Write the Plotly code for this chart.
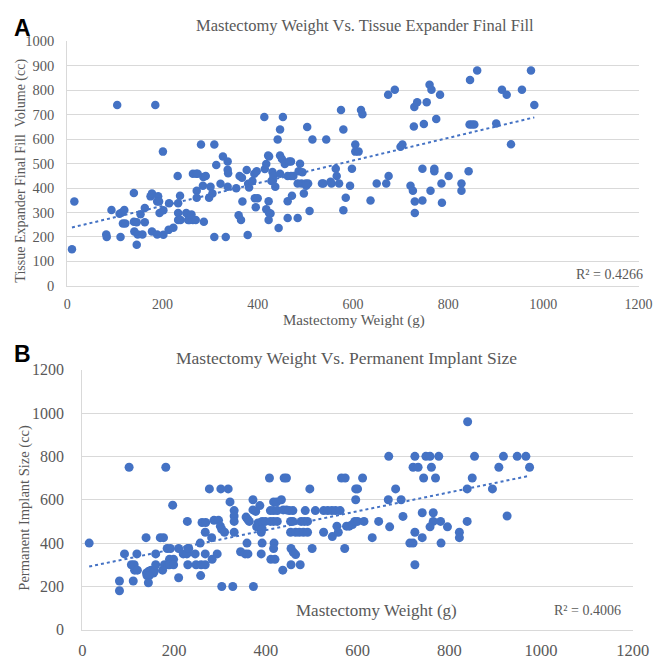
import numpy as np
import plotly.graph_objects as go

# ---------------- Data ----------------
# Panel A: Mastectomy weight (g) vs tissue expander final fill volume (cc)
weight_a = [10, 15, 105, 185, 93, 82, 83, 112, 110, 115, 120, 117, 122, 140, 140, 146, 163, 141, 148, 158,
            146, 154, 163, 175, 178, 178, 189, 191, 189, 193, 194, 202, 201, 202, 214, 213, 223, 232, 233, 237,
            233, 233, 238, 250, 254, 257, 264, 270, 261, 264, 271, 274, 272, 272, 281, 285, 287, 286, 291, 298,
            301, 305, 309, 309, 313, 322, 327, 333, 337, 337, 338, 337, 355, 360, 365, 362, 367, 368, 377, 379,
            380, 382, 389, 393, 394, 400, 396, 398, 414, 415, 418, 418, 422, 424, 423, 424, 427, 423, 429, 432,
            431, 433, 437, 442, 444, 447, 447, 447, 451, 453, 457, 463, 463, 463, 470, 475, 466, 470, 472, 484,
            484, 492, 501, 506, 486, 494, 489, 497, 504, 502, 509, 515, 535, 538, 544, 553, 555, 564, 566, 571,
            575, 580, 580, 585, 594, 598, 605, 605, 612, 617, 620,
            637, 650, 670, 675, 674, 688, 700, 704, 721, 726, 728, 729, 735, 730, 730, 746, 746, 749, 755, 761,
            765, 763, 771, 771, 775, 783, 786, 787, 801, 828, 828, 843, 846, 845, 850, 855, 861, 901, 913, 923,
            932, 955, 974, 981]
fill_a = [150, 345, 740, 740, 310, 210, 200, 200, 295, 300, 310, 255, 255, 380, 262, 260, 260, 222, 210, 210,
          168, 293, 318, 366, 378, 222, 210, 366, 345, 345, 298, 309, 549, 209, 338, 229, 238, 449, 338, 369,
          298, 269, 269, 298, 269, 269, 269, 269, 292, 459, 459, 459, 389, 360, 578, 409, 262, 445, 449, 360,
          405, 378, 578, 200, 494, 418, 529, 200, 509, 475, 461, 405, 399, 289, 269, 449, 442, 345, 474, 208,
          418, 402, 429, 459, 358, 358, 322, 469, 691, 478, 498, 313, 533, 529, 346, 298, 296, 269, 429, 431,
          466, 449, 405, 599, 237, 639, 533, 459, 519, 691, 498, 278, 346, 449, 449, 449, 509, 509, 369, 278,
          419, 419, 419, 419, 469, 465, 499, 378, 650, 409, 306, 599, 419, 419, 599, 426, 419, 479, 449, 419,
          719, 639, 309, 360, 409, 479, 578, 549, 549, 719, 702,
          349, 419, 419, 449, 782, 802, 569, 578, 409, 389, 652, 731, 751, 345, 298, 479, 349, 662, 751, 822,
          802, 389, 479, 469, 682, 782, 419, 340, 449, 419, 389, 469, 842, 660, 660, 660, 881, 664, 802, 782,
          579, 802, 881, 740]

# Panel B: Mastectomy weight (g) vs permanent implant size (cc)
weight_b = [15, 81, 81, 92, 102, 107, 113, 114, 120, 111, 119, 139, 140, 145, 150, 155, 157, 141, 146, 144,
            160, 160, 175, 170, 177, 182, 185, 192, 179, 187, 190, 199, 190, 199, 197, 210, 210, 220, 228, 229,
            230, 232, 230, 246, 248, 259, 268, 258, 257, 261, 269, 268, 268, 277, 282, 283, 287, 297, 294, 301,
            304, 302, 318, 304, 310, 322, 328, 331, 331, 331, 331, 345, 355, 361, 357, 361, 364, 359, 372, 373,
            372, 378, 380, 383, 387, 390, 392, 390, 392, 392, 399, 408, 410, 417, 425, 417, 424, 434, 410, 417,
            425, 418, 417, 411, 420, 437, 440, 445, 438, 445, 451, 459, 454, 459, 454, 465, 473, 455, 460, 465,
            455, 475, 477, 484, 491, 486, 482, 491, 496, 501, 508, 526, 535, 544, 552, 562, 526, 545, 555, 558,
            565, 573, 572, 576, 582, 589, 596, 600, 596, 594, 600,
            614, 611, 632, 646, 667, 668, 670, 683, 695, 699, 714, 721, 725, 725, 725, 721, 732, 741, 741, 744,
            749, 758, 761, 765, 765, 758, 770, 777, 781, 782, 796, 822, 822, 839, 839, 840, 850, 855, 894, 908,
            918, 926, 948, 967, 975]
implant_b = [400, 225, 180, 350, 750, 300, 300, 275, 275, 225, 350, 425, 262, 270, 275, 262, 270, 250, 250, 217,
             350, 300, 275, 425, 425, 750, 375, 375, 300, 300, 325, 325, 300, 300, 575, 240, 375, 350, 350, 500,
             375, 375, 300, 350, 300, 300, 300, 250, 400, 495, 495, 450, 350, 650, 425, 325, 505, 505, 350, 478,
             463, 650, 650, 200, 450, 590, 200, 550, 525, 500, 450, 360, 350, 350, 520, 508, 500, 400, 600, 200,
             553, 546, 475, 493, 573, 450, 466, 350, 400, 500, 500, 700, 550, 550, 550, 590, 590, 600, 500, 500,
             500, 400, 375, 325, 325, 275, 700, 700, 553, 553, 550, 550, 500, 500, 450, 450, 450, 375, 358, 347,
             300, 300, 500, 500, 500, 550, 450, 450, 650, 375, 550, 550, 550, 550, 550, 550, 450, 430, 478, 450,
             700, 700, 375, 478, 478, 486, 650, 650, 600, 500, 500,
             500, 700, 425, 500, 600, 800, 475, 650, 600, 523, 400, 400, 300, 450, 800, 750, 750, 540, 425, 700,
             800, 800, 750, 540, 500, 475, 700, 800, 500, 400, 475, 450, 425, 500, 650, 960, 700, 800, 650, 750,
             800, 525, 800, 800, 750]

x_ticks = [0, 200, 400, 600, 800, 1000, 1200]
r2_a_text = "R² = 0.4266"
r2_b_text = "R² = 0.4006"

# ---------------- Styling ----------------
W, H = 666, 661
BLUE = "#4472C4"
GRID = "#D9D9D9"
TXT = "#595959"
SERIF = "Liberation Serif, Times New Roman, serif"


def px(x):
    return x / W


def py(y):
    return 1 - y / H


def trend(xs, ys):
    slope, intercept = np.polyfit(np.array(xs, float), np.array(ys, float), 1)
    xl = np.array([min(xs), max(xs)], float)
    return xl, slope * xl + intercept


fig = go.Figure()

fig.add_trace(go.Scatter(x=weight_a, y=fill_a, mode="markers",
                         marker=dict(color=BLUE, size=8.5, line=dict(width=0)),
                         xaxis="x", yaxis="y", showlegend=False))
tx, ty = trend(weight_a, fill_a)
fig.add_trace(go.Scatter(x=tx, y=ty, mode="lines",
                         line=dict(color=BLUE, width=2, dash="dot"),
                         xaxis="x", yaxis="y", showlegend=False))

fig.add_trace(go.Scatter(x=weight_b, y=implant_b, mode="markers",
                         marker=dict(color=BLUE, size=9, line=dict(width=0)),
                         xaxis="x2", yaxis="y2", showlegend=False))
tx2, ty2 = trend(weight_b, implant_b)
fig.add_trace(go.Scatter(x=tx2, y=ty2, mode="lines",
                         line=dict(color=BLUE, width=2, dash="dot"),
                         xaxis="x2", yaxis="y2", showlegend=False))

axis_common = dict(showgrid=True, gridcolor=GRID, gridwidth=1, zeroline=False,
                   showline=True, linecolor=GRID, linewidth=1, ticks="",
                   fixedrange=True)

fig.update_layout(
    width=W, height=H,
    margin=dict(l=0, r=0, t=0, b=0),
    paper_bgcolor="white", plot_bgcolor="white",
    font=dict(family=SERIF, color=TXT),
    xaxis=dict(axis_common, domain=[px(57), px(647)], range=[0, 1200],
               tickvals=x_ticks, showgrid=False, anchor="y",
               tickfont=dict(size=14, family=SERIF, color=TXT), ticklabelstandoff=5),
    yaxis=dict(axis_common, domain=[py(277), py(26)], range=[0, 1000], dtick=100,
               anchor="x", tickfont=dict(size=14.5, family=SERIF, color=TXT), ticklabelstandoff=9),
    xaxis2=dict(axis_common, domain=[px(72.6), px(641)], range=[0, 1200],
                tickvals=x_ticks, showgrid=False, anchor="y2",
                tickfont=dict(size=16.5, family=SERIF, color=TXT), ticklabelstandoff=5),
    yaxis2=dict(axis_common, domain=[py(630), py(363)], range=[0, 1200], dtick=200,
                anchor="x2", tickfont=dict(size=16, family=SERIF, color=TXT), ticklabelstandoff=14),
)

ann = []


def add_text(text, x, y, size, xanchor="center", yanchor="middle", color=TXT, family=SERIF,
             angle=0, bold=False):
    ann.append(dict(text=("<b>%s</b>" % text) if bold else text, x=px(x), y=py(y),
                    xref="paper", yref="paper", xanchor=xanchor, yanchor=yanchor,
                    showarrow=False, textangle=angle,
                    font=dict(size=size, color=color, family=family)))


add_text("A", 0, 12, 23, xanchor="left", color="black", family="Liberation Sans, Arial", bold=True)
add_text("Mastectomy Weight Vs. Tissue Expander Final Fill", 365, 10, 16.5)
add_text("Tissue Expander Final Fill  Volume (cc)", 9, 159, 14, angle=-90)
add_text("Mastectomy Weight (g)", 353, 313, 15)
add_text(r2_a_text, 617, 265, 14)

add_text("B", 0, 347, 23, xanchor="left", color="black", family="Liberation Sans, Arial", bold=True)
add_text("Mastectomy Weight Vs. Permanent Implant Size", 345, 351, 17.5)
add_text("Permanent Implant Size (cc)", 12, 505, 14.5, angle=-90)
add_text("Mastectomy Weight (g)", 376, 610, 17)
add_text(r2_b_text, 594, 610, 14)

fig.update_layout(annotations=ann)

fig.write_html("out.html")
